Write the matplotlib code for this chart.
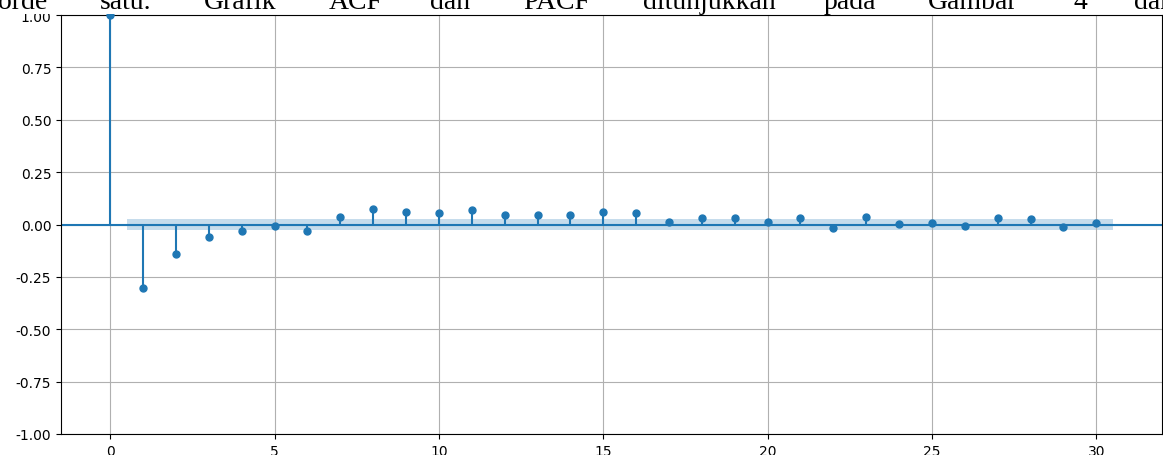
import numpy as np
import matplotlib
matplotlib.use('Agg')
import matplotlib.pyplot as plt
from matplotlib.patches import Rectangle

# PACF values, lag 0..30
lags = np.arange(0, 31)
pacf_vals = [1.0, -0.302, -0.142, -0.062, -0.029, -0.005, -0.029, 0.037, 0.072, 0.062,
             0.057, 0.067, 0.044, 0.044, 0.044, 0.062, 0.054, 0.010, 0.029, 0.029,
             0.011, 0.029, -0.018, 0.035, 0.002, 0.006, -0.005, 0.029, 0.024, -0.014,
             0.008]
conf_half = 0.027

# surrounding paper text (justified line, cut off at top)
words = ['orde', 'satu.', 'Grafik', 'ACF', 'dan', 'PACF', 'ditunjukkan', 'pada',
         'Gambar', '4', 'dan']
word_x = [-2, 100, 204, 329, 430, 523, 643, 824, 928, 1073, 1134]

W, H = 1163, 456
fig = plt.figure(figsize=(W / 100, H / 100), dpi=100)
ax = fig.add_axes([61 / W, 21 / H, (1162 - 61) / W, (435 - 16) / H])

ax.axhline(0, color='#1f77b4', lw=1.5, zorder=1)
ax.vlines(lags, 0, pacf_vals, color='#1f77b4', lw=1.5, zorder=2)
ax.plot(lags, pacf_vals, 'o', color='#1f77b4', markersize=5, zorder=3, clip_on=False)
ax.fill_between(np.array([lags[1] - 0.5] + list(lags[1:] + 0.5)),
                -conf_half, conf_half, color='#1f77b4', alpha=0.25, lw=0, zorder=0)

ax.set_xlim(-1.5, 32.0)
ax.set_ylim(-1.0, 1.0)
ax.set_yticks(np.arange(-1.0, 1.01, 0.25))
ax.set_xticks([0, 5, 10, 15, 20, 25, 30])
ax.yaxis.set_major_formatter(matplotlib.ticker.FormatStrFormatter('%.2f'))
ax.grid(True, color='#b0b0b0', lw=0.8)
ax.set_axisbelow(True)

# white strip of the page covering the top of the figure
fig.patches.append(Rectangle((0, 1 - 15 / H), 1, 15 / H, transform=fig.transFigure,
                             facecolor='white', edgecolor='none', zorder=5))
for w, x in zip(words, word_x):
    fig.text(x / W, 1 - 9 / H, w, family='Liberation Serif', fontsize=20,
             va='baseline', ha='left', zorder=6)

fig.savefig('out.png', dpi=100)
